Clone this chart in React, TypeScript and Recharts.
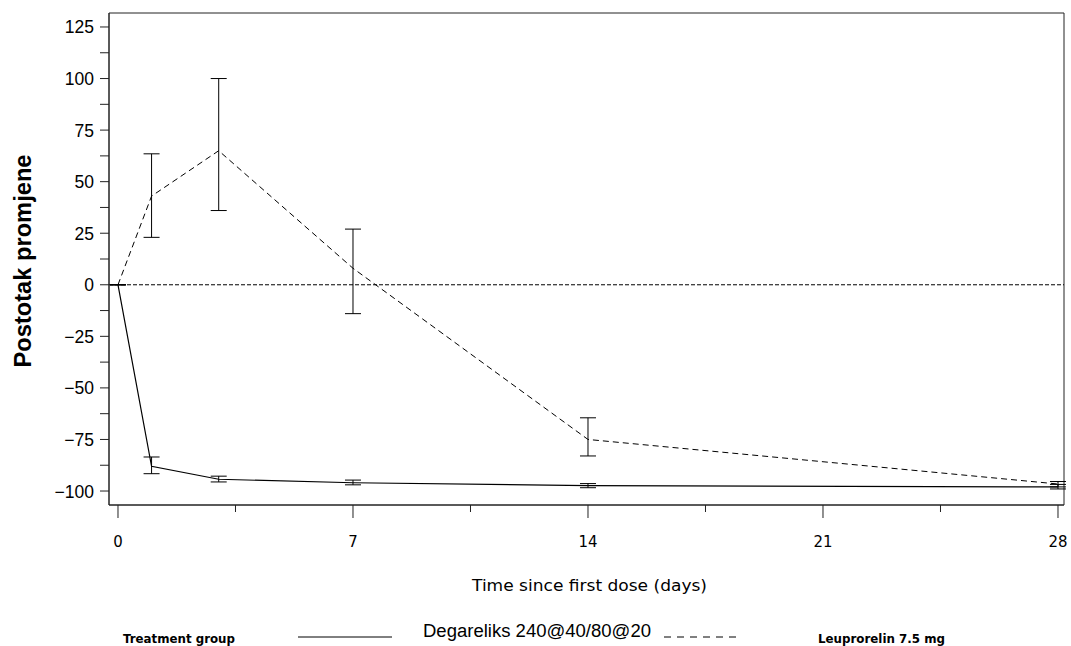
import { ComposedChart, Line, XAxis, YAxis, ErrorBar, ReferenceLine, ReferenceArea, Legend } from 'recharts'

// Study days on the x axis
const days = [0, 1, 3, 7, 14, 28]

// Degareliks 240@40/80@20: mean % change with lower/upper limits
const degarelixMean = [0, -88, -94.3, -96, -97.4, -98]
const degarelixLow = [0, -91.6, -95.6, -97, -98.4, -99]
const degarelixHigh = [0, -83.5, -92.8, -94.7, -96.4, -96.8]

// Leuprorelin 7.5 mg
const leuprorelinMean = [0, 43, 65, 8, -75, -96.6]
const leuprorelinLow = [0, 23, 36, -14, -83, -98]
const leuprorelinHigh = [0, 63.5, 100, 27, -64.5, -95.4]

const xTicks = [0, 3.5, 7, 10.5, 14, 17.5, 21, 24.5, 28]
const yTicks = [-100, -87.5, -75, -62.5, -50, -37.5, -25, -12.5, 0, 12.5, 25, 37.5, 50, 62.5, 75, 87.5, 100, 112.5, 125]

const seriesNames = ['Degareliks 240@40/80@20', 'Leuprorelin 7.5 mg']

const X_DOMAIN: [number, number] = [-0.268, 28.179]
const Y_DOMAIN: [number, number] = [-106.78, 131.78]

const data = days.map((day, i) => ({
  day,
  deg: degarelixMean[i],
  degErr: [degarelixMean[i] - degarelixLow[i], degarelixHigh[i] - degarelixMean[i]],
  leu: leuprorelinMean[i],
  leuErr: [leuprorelinMean[i] - leuprorelinLow[i], leuprorelinHigh[i] - leuprorelinMean[i]],
}))

const ARIAL = '"Liberation Sans", Arial, sans-serif'
const ROUND = '"DejaVu Sans", Verdana, sans-serif'

const fmtY = (v: number) => (v < 0 ? `\u2212${Math.abs(v)}` : String(v))

function XTick(props: any) {
  const { x, y, payload } = props
  const major = payload.value % 7 === 0
  const label = String(payload.value)
  return (
    <g>
      <line x1={x} x2={x} y1={y} y2={y + (major ? 13 : 7)} stroke="#222" strokeWidth={1} />
      {major && (
        <text
          x={x}
          y={y + 42}
          textAnchor="middle"
          fontFamily={ROUND}
          fontSize={16}
          textLength={label.length * 9.5}
          lengthAdjust="spacingAndGlyphs"
          fill="#000"
        >
          {label}
        </text>
      )}
    </g>
  )
}

function YTick(props: any) {
  const { x, y, payload } = props
  const major = payload.value % 25 === 0
  return (
    <g>
      <line x1={x - 9} x2={x} y1={y} y2={y} stroke="#222" strokeWidth={1} />
      {major && (
        <text x={x - 15} y={y + 6.5} textAnchor="end" fontFamily={ARIAL} fontSize={17.5} fill="#000">
          {fmtY(payload.value)}
        </text>
      )}
    </g>
  )
}

function LegendBox() {
  return (
    <svg width={1071} height={46} style={{ display: 'block' }}>
      <text x={123} y={43} fontFamily={ROUND} fontWeight={700} fontSize={12} textLength={112} lengthAdjust="spacingAndGlyphs" fill="#000">
        Treatment group
      </text>
      <line x1={298} x2={392} y1={37} y2={37} stroke="#000" strokeWidth={1} />
      <text x={423} y={37} fontFamily={ARIAL} fontSize={18} textLength={228} lengthAdjust="spacingAndGlyphs" fill="#000">
        {seriesNames[0]}
      </text>
      <line x1={664} x2={740} y1={37} y2={37} stroke="#000" strokeWidth={1} strokeDasharray="7 6" />
      <text x={818} y={43} fontFamily={ROUND} fontWeight={700} fontSize={12} textLength={127} lengthAdjust="spacingAndGlyphs" fill="#000">
        {seriesNames[1]}
      </text>
    </svg>
  )
}

export default function App() {
  return (
    <div style={{ position: 'absolute', left: 0, top: 0, width: 1071, height: 646, background: '#fff' }}>
      <ComposedChart width={1071} height={646} data={data} margin={{ top: 13, right: 7, bottom: 0, left: 0 }}>
        <XAxis
          dataKey="day"
          type="number"
          domain={X_DOMAIN}
          ticks={xTicks}
          allowDataOverflow
          height={141}
          stroke="#222"
          tickSize={0}
          tickMargin={0}
          tick={<XTick />}
          interval={0}
          label={(p: any) => {
            const vb = p.viewBox
            return (
              <text
                x={vb.x + vb.width / 2 + 3}
                y={591}
                textAnchor="middle"
                fontFamily={ROUND}
                fontSize={16}
                textLength={235}
                lengthAdjust="spacingAndGlyphs"
                fill="#000"
              >
                Time since first dose (days)
              </text>
            )
          }}
        />
        <YAxis
          type="number"
          domain={Y_DOMAIN}
          ticks={yTicks}
          allowDataOverflow
          width={109}
          stroke="#222"
          tickSize={0}
          tickMargin={0}
          tick={<YTick />}
          interval={0}
          label={(p: any) => {
            const vb = p.viewBox
            const cy = vb.y + vb.height / 2 + 2
            return (
              <text
                x={31}
                y={cy}
                transform={`rotate(-90, 31, ${cy})`}
                textAnchor="middle"
                fontFamily={ARIAL}
                fontWeight={700}
                fontSize={23}
                textLength={213}
                lengthAdjust="spacingAndGlyphs"
                fill="#000"
              >
                Postotak promjene
              </text>
            )
          }}
        />
        <ReferenceArea
          x1={X_DOMAIN[0]}
          x2={X_DOMAIN[1]}
          y1={Y_DOMAIN[0]}
          y2={Y_DOMAIN[1]}
          fill="none"
          stroke="#222"
          strokeWidth={1}
          ifOverflow="visible"
        />
        <ReferenceLine y={0} stroke="#000" strokeDasharray="4 2" strokeWidth={1} />
        <Line
          dataKey="deg"
          name={seriesNames[0]}
          stroke="#000"
          strokeWidth={1.2}
          dot={false}
          activeDot={false}
          isAnimationActive={false}
        >
          <ErrorBar dataKey="degErr" direction="y" width={8} stroke="#000" strokeWidth={1} />
        </Line>
        <Line
          dataKey="leu"
          name={seriesNames[1]}
          stroke="#000"
          strokeWidth={1}
          strokeDasharray="6 4"
          dot={false}
          activeDot={false}
          isAnimationActive={false}
        >
          <ErrorBar dataKey="leuErr" direction="y" width={8} stroke="#000" strokeWidth={1} />
        </Line>
        <Legend
          verticalAlign="middle"
          layout="horizontal"
          content={() => <LegendBox />}
          wrapperStyle={{ position: 'absolute', left: 0, top: 600, width: 1071, height: 46 }}
        />
      </ComposedChart>
    </div>
  )
}
